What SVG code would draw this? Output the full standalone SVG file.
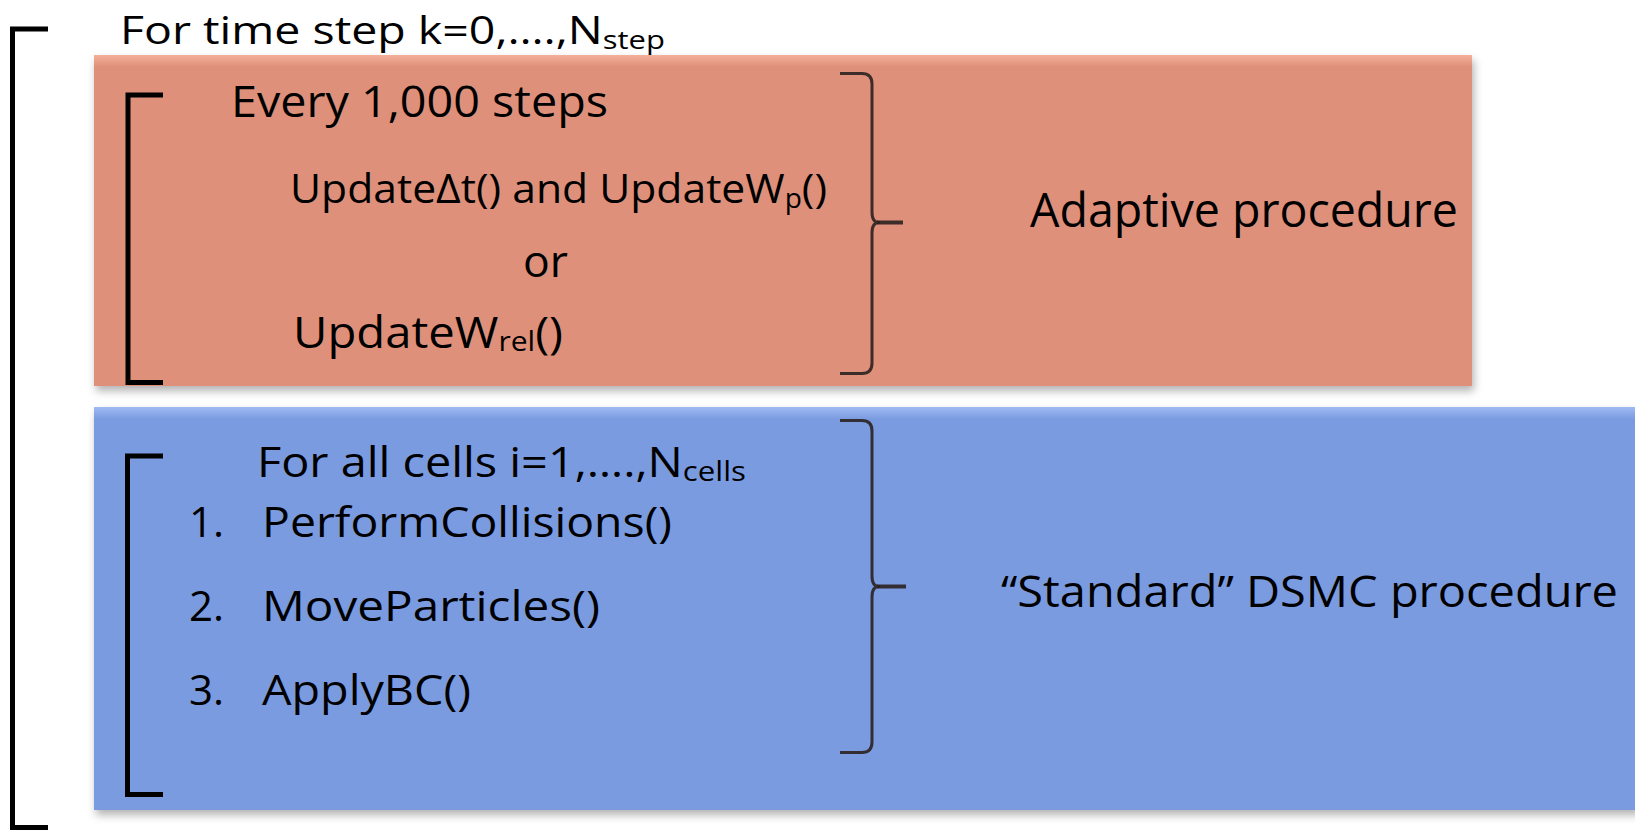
<svg xmlns="http://www.w3.org/2000/svg" width="1635" height="830" viewBox="0 0 1635 830">
<style>
  text { font-family: "Open Sans", "Liberation Sans", sans-serif; fill: #000; }
  .bracket { fill: none; stroke: #000; stroke-width: 5; stroke-linecap: butt; }
  .brace { fill: none; stroke: #2a2220; stroke-width: 3; stroke-linecap: butt; stroke-linejoin: round; opacity: 0.9; }
  .tip { fill: none; stroke: #2a2220; stroke-width: 4; opacity: 0.9; }
</style>
<defs>
  <linearGradient id="gOrange" x1="0" y1="0" x2="0" y2="1">
    <stop offset="0" stop-color="#F5B09A"/>
    <stop offset="0.035" stop-color="#DF907A"/>
    <stop offset="1" stop-color="#DF907A"/>
  </linearGradient>
  <linearGradient id="gBlue" x1="0" y1="0" x2="0" y2="1">
    <stop offset="0" stop-color="#A0BBF3"/>
    <stop offset="0.03" stop-color="#7A9BE0"/>
    <stop offset="1" stop-color="#7A9BE0"/>
  </linearGradient>
  <filter id="shadow" x="-5%" y="-5%" width="110%" height="120%">
    <feDropShadow dx="2" dy="5" stdDeviation="4" flood-color="#000" flood-opacity="0.3"/>
  </filter>
</defs>

<rect x="0" y="0" width="1635" height="830" fill="#fff"/>

<g id="outer-loop">
  <path class="bracket" d="M48 29 H12.5 V827.5 H48" stroke-width="4"/>
  <text x="120" y="44" font-size="39" textLength="545" lengthAdjust="spacingAndGlyphs">For time step k=0,….,N<tspan font-size="26" dy="5">step</tspan></text>
</g>

<g id="adaptive">
  <rect x="94" y="55" width="1378" height="331" fill="url(#gOrange)" filter="url(#shadow)"/>
  <path class="bracket" d="M163 95 H128 V382.5 H163"/>
  <text x="231" y="117" font-size="43" textLength="377" lengthAdjust="spacingAndGlyphs">Every 1,000 steps</text>
  <text x="290" y="203" font-size="41" textLength="537" lengthAdjust="spacingAndGlyphs">UpdateΔt() and UpdateW<tspan font-size="27" dy="5">p</tspan><tspan dy="-5">()</tspan></text>
  <text x="523" y="277" font-size="43" textLength="45" lengthAdjust="spacingAndGlyphs">or</text>
  <text x="293" y="348" font-size="44" textLength="270" lengthAdjust="spacingAndGlyphs">UpdateW<tspan font-size="28" dy="3">rel</tspan><tspan dy="-3">()</tspan></text>
  <text x="1030" y="227" font-size="48" textLength="428" lengthAdjust="spacingAndGlyphs">Adaptive procedure</text>
</g>

<g id="dsmc">
  <rect x="94" y="407" width="1545" height="403" fill="url(#gBlue)" filter="url(#shadow)"/>
  <path class="bracket" d="M163 456 H127.5 V794.5 H163"/>
  <text x="257" y="477" font-size="42" textLength="489" lengthAdjust="spacingAndGlyphs">For all cells i=1,….,N<tspan font-size="28" dy="4">cells</tspan></text>
  <text x="189" y="537" font-size="42">1.</text>
  <text x="262" y="537" font-size="42" textLength="410" lengthAdjust="spacingAndGlyphs">PerformCollisions()</text>
  <text x="189" y="621" font-size="42">2.</text>
  <text x="262" y="621" font-size="42" textLength="338" lengthAdjust="spacingAndGlyphs">MoveParticles()</text>
  <text x="189" y="705" font-size="42">3.</text>
  <text x="262" y="705" font-size="42" textLength="209" lengthAdjust="spacingAndGlyphs">ApplyBC()</text>
  <text x="1001" y="607" font-size="43" textLength="617" lengthAdjust="spacingAndGlyphs">“Standard” DSMC procedure</text>
</g>

<g id="connectors">
  <path class="brace" d="M840 73.5 H862 Q872 73.5 872 84 V212 Q872 222.5 879 222.5 Q872 222.5 872 233 V363 Q872 373.5 862 373.5 H840"/>
  <path class="tip" d="M877 222.5 H903"/>
  <path class="brace" d="M840 420.5 H862 Q872 420.5 872 431 V576 Q872 586.5 879 586.5 Q872 586.5 872 597 V742 Q872 752.5 862 752.5 H840"/>
  <path class="tip" d="M877 586.5 H906"/>
</g>
</svg>
